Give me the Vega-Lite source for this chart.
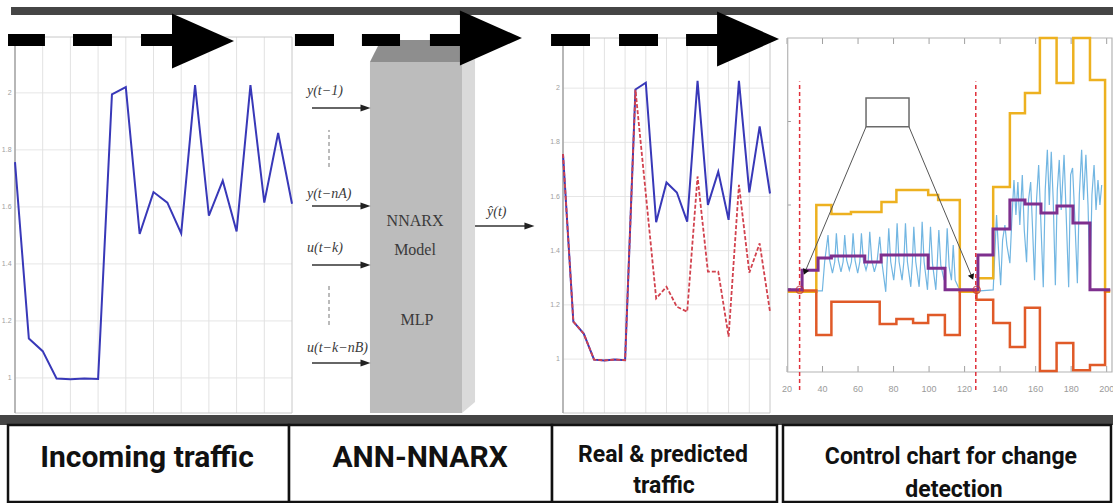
{
  "$schema": "https://vega.github.io/schema/vega-lite/v6.json",
  "width": 1113,
  "height": 503,
  "autosize": {"type": "none"},
  "padding": 0,
  "background": "white",
  "config": {"view": {"stroke": null}},
  "resolve": {"scale": {"x": "independent", "y": "independent"}},
  "datasets": {
    "series": [
      {"t": 1, "real": 1.757, "predicted": 1.757},
      {"t": 2, "real": 1.138, "predicted": 1.138},
      {"t": 3, "real": 1.094, "predicted": 1.094},
      {"t": 4, "real": 0.998, "predicted": 0.998},
      {"t": 5, "real": 0.995, "predicted": 0.995},
      {"t": 6, "real": 0.998, "predicted": 0.998},
      {"t": 7, "real": 0.996, "predicted": 0.996},
      {"t": 8, "real": 1.995, "predicted": 1.994},
      {"t": 9, "real": 2.02, "predicted": 1.61},
      {"t": 10, "real": 1.505, "predicted": 1.224},
      {"t": 11, "real": 1.652, "predicted": 1.267},
      {"t": 12, "real": 1.615, "predicted": 1.193},
      {"t": 13, "real": 1.507, "predicted": 1.175},
      {"t": 14, "real": 2.027, "predicted": 1.674},
      {"t": 15, "real": 1.569, "predicted": 1.323},
      {"t": 16, "real": 1.692, "predicted": 1.323},
      {"t": 17, "real": 1.514, "predicted": 1.083},
      {"t": 18, "real": 2.027, "predicted": 1.643},
      {"t": 19, "real": 1.615, "predicted": 1.319},
      {"t": 20, "real": 1.859, "predicted": 1.427},
      {"t": 21, "real": 1.611, "predicted": 1.175}
    ],
    "ygrid": [
      {"v": 1, "label": "1"}, {"v": 1.2, "label": "1.2"}, {"v": 1.4, "label": "1.4"},
      {"v": 1.6, "label": "1.6"}, {"v": 1.8, "label": "1.8"}, {"v": 2, "label": "2"}
    ],
    "xgrid": [{"t": 3}, {"t": 5}, {"t": 7}, {"t": 9}, {"t": 11}, {"t": 13}, {"t": 15}, {"t": 17}, {"t": 19}],
    "frame1": [{"panel": "incoming"}],
    "frame3": [{"panel": "predicted"}],
    "nn_front": [{"x": 33.24, "x2": 41.51, "y": 17.89, "y2": 87.67}],
    "nn_top": [{"x": 33.24, "y": 87.67, "y2": 87.67}, {"x": 34.23, "y": 92.05, "y2": 87.67}, {"x": 41.51, "y": 92.05, "y2": 87.67}],
    "nn_side": [{"x": 41.51, "y": 87.67, "y2": 17.89}, {"x": 42.68, "y": 90.06, "y2": 20.08}],
    "nn_arrows": [
      {"x": 28.03, "x2": 32.84, "y": 78.53},
      {"x": 28.03, "x2": 32.84, "y": 59.05},
      {"x": 28.03, "x2": 32.84, "y": 47.32},
      {"x": 28.03, "x2": 32.84, "y": 27.83},
      {"x": 42.68, "x2": 47.57, "y": 55.07}
    ],
    "nn_gaps": [{"x": 29.56, "y": 66.8, "y2": 74.16}, {"x": 29.56, "y": 35.39, "y2": 43.74}],
    "nn_labels": [
      {"text": "y(t−1)", "x": 27.58, "y": 81.11},
      {"text": "y(t−nA)", "x": 27.58, "y": 60.64},
      {"text": "u(t−k)", "x": 27.58, "y": 49.9},
      {"text": "u(t−k−nB)", "x": 27.58, "y": 30.02},
      {"text": "ŷ(t)", "x": 43.76, "y": 57.06}
    ],
    "nn_model": [
      {"text": "NNARX", "x": 37.29, "y": 55.07},
      {"text": "Model", "x": 37.29, "y": 49.3},
      {"text": "MLP", "x": 37.47, "y": 35.39}
    ],
    "p4frame": [{"x": 20.4, "x2": 203, "v": 0, "v2": 100}],
    "p4xticks": [
      {"x": 20, "label": "20"}, {"x": 40, "label": "40"}, {"x": 60, "label": "60"}, {"x": 80, "label": "80"},
      {"x": 100, "label": "100"}, {"x": 120, "label": "120"}, {"x": 140, "label": "140"}, {"x": 160, "label": "160"},
      {"x": 180, "label": "180"}, {"x": 200, "label": "200"}
    ],
    "p4yticks": [{"v": 25}, {"v": 50}, {"v": 75}],
    "observed": [
      {"x": 30.9, "v": 24.3}, {"x": 39.9, "v": 24.3}, {"x": 41.2, "v": 33.0}, {"x": 43.1, "v": 41.0}, {"x": 44.0, "v": 33.5},
      {"x": 45.6, "v": 29.6}, {"x": 46.9, "v": 33.0}, {"x": 47.8, "v": 41.5}, {"x": 48.9, "v": 33.5}, {"x": 50.4, "v": 30.0},
      {"x": 51.6, "v": 33.0}, {"x": 52.5, "v": 41.0}, {"x": 53.6, "v": 33.5}, {"x": 55.1, "v": 30.5}, {"x": 56.3, "v": 33.0},
      {"x": 57.2, "v": 41.5}, {"x": 58.3, "v": 33.5}, {"x": 59.8, "v": 29.6}, {"x": 61.0, "v": 33.0}, {"x": 61.9, "v": 41.5},
      {"x": 63.0, "v": 33.5}, {"x": 64.5, "v": 30.5}, {"x": 65.7, "v": 33.0}, {"x": 66.6, "v": 42.0}, {"x": 67.7, "v": 33.5},
      {"x": 69.2, "v": 30.0}, {"x": 70.7, "v": 33.0}, {"x": 72.2, "v": 40.5}, {"x": 73.4, "v": 33.0}, {"x": 75.6, "v": 24.0},
      {"x": 76.4, "v": 33.0}, {"x": 77.3, "v": 43.0}, {"x": 78.4, "v": 33.0}, {"x": 80.1, "v": 27.5}, {"x": 81.1, "v": 33.0},
      {"x": 82.0, "v": 44.5}, {"x": 83.1, "v": 33.0}, {"x": 84.8, "v": 27.5}, {"x": 85.8, "v": 33.0}, {"x": 86.7, "v": 44.5},
      {"x": 87.8, "v": 33.0}, {"x": 89.7, "v": 25.5}, {"x": 90.6, "v": 33.0}, {"x": 91.4, "v": 43.5}, {"x": 92.5, "v": 33.0},
      {"x": 94.4, "v": 25.5}, {"x": 95.3, "v": 33.0}, {"x": 96.1, "v": 45.0}, {"x": 97.2, "v": 33.0}, {"x": 99.1, "v": 24.6},
      {"x": 99.9, "v": 33.0}, {"x": 100.8, "v": 43.5}, {"x": 101.9, "v": 32.5}, {"x": 103.8, "v": 24.6}, {"x": 104.6, "v": 32.5},
      {"x": 105.5, "v": 42.5}, {"x": 106.6, "v": 32.0}, {"x": 108.5, "v": 27.5}, {"x": 109.4, "v": 32.0}, {"x": 110.2, "v": 43.0},
      {"x": 111.3, "v": 31.5}, {"x": 112.6, "v": 27.5}, {"x": 113.6, "v": 38.0}, {"x": 114.7, "v": 27.5}, {"x": 116.4, "v": 25.5},
      {"x": 118.3, "v": 24.6}, {"x": 128.6, "v": 24.3}, {"x": 136.1, "v": 24.6},
      {"x": 137.1, "v": 36.5}, {"x": 138.0, "v": 47.0}, {"x": 139.1, "v": 36.5}, {"x": 140.3, "v": 26.0}, {"x": 141.4, "v": 39.5},
      {"x": 142.7, "v": 44.0}, {"x": 143.8, "v": 38.0}, {"x": 145.5, "v": 32.6}, {"x": 146.6, "v": 45.5}, {"x": 147.8, "v": 57.5},
      {"x": 148.9, "v": 47.0}, {"x": 150.0, "v": 56.9}, {"x": 151.1, "v": 44.0}, {"x": 152.5, "v": 59.0}, {"x": 153.6, "v": 42.5},
      {"x": 154.9, "v": 32.9}, {"x": 156.0, "v": 51.5}, {"x": 157.2, "v": 56.9}, {"x": 158.3, "v": 42.5}, {"x": 159.4, "v": 27.5},
      {"x": 160.5, "v": 51.5}, {"x": 161.7, "v": 62.0}, {"x": 162.8, "v": 47.0}, {"x": 164.3, "v": 25.4}, {"x": 165.4, "v": 54.5},
      {"x": 166.6, "v": 66.5}, {"x": 167.7, "v": 50.0}, {"x": 168.8, "v": 65.9}, {"x": 169.9, "v": 51.5}, {"x": 171.1, "v": 26.0},
      {"x": 172.2, "v": 54.5}, {"x": 173.3, "v": 63.5}, {"x": 174.4, "v": 48.5}, {"x": 176.0, "v": 65.0}, {"x": 177.1, "v": 48.5},
      {"x": 178.6, "v": 25.4}, {"x": 179.7, "v": 59.0}, {"x": 180.8, "v": 61.1}, {"x": 182.0, "v": 47.0}, {"x": 183.5, "v": 26.6},
      {"x": 184.6, "v": 53.0}, {"x": 185.9, "v": 66.5}, {"x": 187.0, "v": 51.5}, {"x": 188.3, "v": 65.0}, {"x": 189.5, "v": 50.0},
      {"x": 190.6, "v": 26.0}, {"x": 191.7, "v": 53.0}, {"x": 192.9, "v": 62.0}, {"x": 194.0, "v": 48.5}, {"x": 195.1, "v": 57.5},
      {"x": 196.2, "v": 50.0}, {"x": 197.2, "v": 56.0}
    ],
    "center": [
      {"x": 20.5, "v": 24.6}, {"x": 28.5, "v": 30.5}, {"x": 37.5, "v": 34.1}, {"x": 45, "v": 34.7}, {"x": 63.8, "v": 32.9},
      {"x": 73, "v": 35.0}, {"x": 99.5, "v": 31.1}, {"x": 109, "v": 24.6}, {"x": 127.5, "v": 35.0}, {"x": 136, "v": 42.8},
      {"x": 145.5, "v": 51.5}, {"x": 154, "v": 50.3}, {"x": 163, "v": 47.6}, {"x": 172, "v": 49.7}, {"x": 181, "v": 44.6},
      {"x": 190.6, "v": 24.6}, {"x": 202, "v": 24.6}
    ],
    "upper": [
      {"x": 20.5, "v": 24.0}, {"x": 36.5, "v": 50.0}, {"x": 45, "v": 47.3}, {"x": 56, "v": 47.9}, {"x": 73.2, "v": 50.9},
      {"x": 81.6, "v": 54.5}, {"x": 99.5, "v": 53.0}, {"x": 105.1, "v": 51.5}, {"x": 117.3, "v": 24.0}, {"x": 127.7, "v": 28.1},
      {"x": 136.1, "v": 55.4}, {"x": 145.5, "v": 77.5}, {"x": 154, "v": 83.5}, {"x": 162.4, "v": 100}, {"x": 171.8, "v": 86.5},
      {"x": 181.2, "v": 100}, {"x": 190.6, "v": 87.4}, {"x": 199.1, "v": 24.0}, {"x": 202, "v": 24.0}
    ],
    "lower": [
      {"x": 20.5, "v": 24.4}, {"x": 36.5, "v": 11.1}, {"x": 45, "v": 21.0}, {"x": 72.2, "v": 14.4}, {"x": 81.6, "v": 15.9},
      {"x": 91, "v": 14.7}, {"x": 99.5, "v": 17.1}, {"x": 108.9, "v": 11.1}, {"x": 117.3, "v": 24.4}, {"x": 126.7, "v": 21.6},
      {"x": 136.1, "v": 14.7}, {"x": 145.5, "v": 7.5}, {"x": 154, "v": 19.2}, {"x": 162.4, "v": 0.3}, {"x": 171.8, "v": 8.7},
      {"x": 181.2, "v": 0.5}, {"x": 190.6, "v": 2.1}, {"x": 199.1, "v": 24.4}, {"x": 202, "v": 24.4}
    ],
    "changes": [{"x": 27.1}, {"x": 126.3}],
    "marks4": [{"x": 27.2, "v": 24.6}, {"x": 126.8, "v": 24.6}],
    "zoombox": [{"x": 64.5, "x2": 88.7, "v": 73.4, "v2": 82.0}],
    "connectors": [{"x": 64.5, "v": 73.4, "x2": 30.1, "v2": 29.9}, {"x": 88.7, "v": 73.4, "x2": 124.2, "v2": 28.4}],
    "bars": [{"x": 0.99, "x2": 100, "y": 97.02, "y2": 98.61}, {"x": 0, "x2": 100, "y": 15.51, "y2": 17.5}],
    "boxes": [
      {"x": 0.72, "x2": 25.97, "y": 0.2, "y2": 15.51},
      {"x": 25.97, "x2": 49.6, "y": 0.2, "y2": 15.51},
      {"x": 49.6, "x2": 69.81, "y": 0.2, "y2": 15.51},
      {"x": 70.35, "x2": 99.82, "y": 0.2, "y2": 15.51}
    ],
    "dashes": [
      {"x": 0.72, "x2": 4.04}, {"x": 6.56, "x2": 10.06}, {"x": 12.67, "x2": 15.81},
      {"x": 26.5, "x2": 30.01}, {"x": 32.52, "x2": 35.94}, {"x": 38.63, "x2": 41.51},
      {"x": 49.51, "x2": 53.01}, {"x": 55.62, "x2": 59.12}, {"x": 61.64, "x2": 64.6}
    ],
    "heads": [{"x": 18.24, "y": 91.85}, {"x": 44.11, "y": 92.45}, {"x": 67.21, "y": 92.25}],
    "titles_big": [{"text": "Incoming traffic", "x": 13.21, "y": 7.16}, {"text": "ANN-NNARX", "x": 37.74, "y": 7.16}],
    "titles_small": [
      {"text": "Real & predicted", "x": 59.57, "y": 8.15},
      {"text": "traffic", "x": 59.66, "y": 1.99},
      {"text": "Control chart for change", "x": 85.44, "y": 7.75},
      {"text": "detection", "x": 85.71, "y": 1.19}
    ]
  },
  "layer": [
    {
      "data": {"name": "ygrid"},
      "mark": {"type": "rule", "color": "#e6e6e6", "strokeWidth": 1},
      "encoding": {
        "x": {"datum": 1, "type": "quantitative", "scale": {"domain": [1, 21], "range": [15, 292], "nice": false, "zero": false}, "axis": null},
        "x2": {"datum": 21},
        "y": {"field": "v", "type": "quantitative", "scale": {"domain": [0.877, 2.196], "range": [413, 37], "nice": false, "zero": false}, "axis": null}
      }
    },
    {
      "data": {"name": "xgrid"},
      "mark": {"type": "rule", "color": "#e2e2e2", "strokeWidth": 1},
      "encoding": {
        "x": {"field": "t", "type": "quantitative", "scale": {"domain": [1, 21], "range": [15, 292], "nice": false, "zero": false}, "axis": null},
        "y": {"datum": 0.877, "type": "quantitative", "scale": {"domain": [0.877, 2.196], "range": [413, 37], "nice": false, "zero": false}, "axis": null},
        "y2": {"datum": 2.196}
      }
    },
    {
      "data": {"name": "frame1"},
      "mark": {"type": "rect", "fillOpacity": 0, "stroke": "#c8c8c8", "strokeWidth": 1},
      "encoding": {
        "x": {"datum": 1, "type": "quantitative", "scale": {"domain": [1, 21], "range": [15, 292], "nice": false, "zero": false}, "axis": null},
        "x2": {"datum": 21},
        "y": {"datum": 0.877, "type": "quantitative", "scale": {"domain": [0.877, 2.196], "range": [413, 37], "nice": false, "zero": false}, "axis": null},
        "y2": {"datum": 2.196}
      }
    },
    {
      "data": {"name": "frame1"},
      "mark": {"type": "rule", "color": "#a8a8a8", "strokeWidth": 1.5},
      "encoding": {
        "x": {"datum": 1, "type": "quantitative", "scale": {"domain": [1, 21], "range": [15, 292], "nice": false, "zero": false}, "axis": null},
        "y": {"datum": 0.877, "type": "quantitative", "scale": {"domain": [0.877, 2.196], "range": [413, 37], "nice": false, "zero": false}, "axis": null},
        "y2": {"datum": 2.196}
      }
    },
    {
      "data": {"name": "ygrid"},
      "mark": {"type": "text", "align": "right", "baseline": "middle", "fontSize": 7, "color": "#a0a0a0", "font": "Liberation Sans"},
      "encoding": {
        "x": {"datum": 0.75, "type": "quantitative", "scale": {"domain": [1, 21], "range": [15, 292], "nice": false, "zero": false}, "axis": null},
        "y": {"field": "v", "type": "quantitative", "scale": {"domain": [0.877, 2.196], "range": [413, 37], "nice": false, "zero": false}, "axis": null},
        "text": {"field": "label"}
      }
    },
    {
      "data": {"name": "series"},
      "mark": {"type": "line", "color": "#3838b8", "strokeWidth": 2},
      "encoding": {
        "x": {"field": "t", "type": "quantitative", "scale": {"domain": [1, 21], "range": [15, 292], "nice": false, "zero": false}, "axis": null},
        "y": {"field": "real", "type": "quantitative", "scale": {"domain": [0.877, 2.196], "range": [413, 37], "nice": false, "zero": false}, "axis": null}
      }
    },
    {
      "data": {"name": "ygrid"},
      "mark": {"type": "rule", "color": "#e6e6e6", "strokeWidth": 1},
      "encoding": {
        "x": {"datum": 1, "type": "quantitative", "scale": {"domain": [1, 21], "range": [563, 770], "nice": false, "zero": false}, "axis": null},
        "x2": {"datum": 21},
        "y": {"field": "v", "type": "quantitative", "scale": {"domain": [0.801, 2.185], "range": [413, 38], "nice": false, "zero": false}, "axis": null}
      }
    },
    {
      "data": {"name": "xgrid"},
      "mark": {"type": "rule", "color": "#e2e2e2", "strokeWidth": 1},
      "encoding": {
        "x": {"field": "t", "type": "quantitative", "scale": {"domain": [1, 21], "range": [563, 770], "nice": false, "zero": false}, "axis": null},
        "y": {"datum": 0.801, "type": "quantitative", "scale": {"domain": [0.801, 2.185], "range": [413, 38], "nice": false, "zero": false}, "axis": null},
        "y2": {"datum": 2.185}
      }
    },
    {
      "data": {"name": "frame3"},
      "mark": {"type": "rect", "fillOpacity": 0, "stroke": "#c8c8c8", "strokeWidth": 1},
      "encoding": {
        "x": {"datum": 1, "type": "quantitative", "scale": {"domain": [1, 21], "range": [563, 770], "nice": false, "zero": false}, "axis": null},
        "x2": {"datum": 21},
        "y": {"datum": 0.801, "type": "quantitative", "scale": {"domain": [0.801, 2.185], "range": [413, 38], "nice": false, "zero": false}, "axis": null},
        "y2": {"datum": 2.185}
      }
    },
    {
      "data": {"name": "frame3"},
      "mark": {"type": "rule", "color": "#a8a8a8", "strokeWidth": 1.5},
      "encoding": {
        "x": {"datum": 1, "type": "quantitative", "scale": {"domain": [1, 21], "range": [563, 770], "nice": false, "zero": false}, "axis": null},
        "y": {"datum": 0.801, "type": "quantitative", "scale": {"domain": [0.801, 2.185], "range": [413, 38], "nice": false, "zero": false}, "axis": null},
        "y2": {"datum": 2.185}
      }
    },
    {
      "data": {"name": "ygrid"},
      "mark": {"type": "text", "align": "right", "baseline": "middle", "fontSize": 7, "color": "#a0a0a0", "font": "Liberation Sans"},
      "encoding": {
        "x": {"datum": 0.7, "type": "quantitative", "scale": {"domain": [1, 21], "range": [563, 770], "nice": false, "zero": false}, "axis": null},
        "y": {"field": "v", "type": "quantitative", "scale": {"domain": [0.801, 2.185], "range": [413, 38], "nice": false, "zero": false}, "axis": null},
        "text": {"field": "label"}
      }
    },
    {
      "data": {"name": "series"},
      "mark": {"type": "line", "color": "#3838b8", "strokeWidth": 2},
      "encoding": {
        "x": {"field": "t", "type": "quantitative", "scale": {"domain": [1, 21], "range": [563, 770], "nice": false, "zero": false}, "axis": null},
        "y": {"field": "real", "type": "quantitative", "scale": {"domain": [0.801, 2.185], "range": [413, 38], "nice": false, "zero": false}, "axis": null}
      }
    },
    {
      "data": {"name": "series"},
      "mark": {"type": "line", "color": "#d2424e", "strokeWidth": 1.8, "strokeDash": [4, 2]},
      "encoding": {
        "x": {"field": "t", "type": "quantitative", "scale": {"domain": [1, 21], "range": [563, 770], "nice": false, "zero": false}, "axis": null},
        "y": {"field": "predicted", "type": "quantitative", "scale": {"domain": [0.801, 2.185], "range": [413, 38], "nice": false, "zero": false}, "axis": null}
      }
    },
    {
      "data": {"name": "nn_side"},
      "mark": {"type": "area", "orient": "vertical", "color": "#dadada", "opacity": 1},
      "encoding": {
        "x": {"field": "x", "type": "quantitative", "scale": {"domain": [0, 100], "range": [0, 1113], "nice": false, "zero": false}, "axis": null},
        "y": {"field": "y", "type": "quantitative", "scale": {"domain": [0, 100], "range": [503, 0], "nice": false, "zero": false}, "axis": null},
        "y2": {"field": "y2"}
      }
    },
    {
      "data": {"name": "nn_top"},
      "mark": {"type": "area", "orient": "vertical", "color": "#8e8e8e", "opacity": 1},
      "encoding": {
        "x": {"field": "x", "type": "quantitative", "scale": {"domain": [0, 100], "range": [0, 1113], "nice": false, "zero": false}, "axis": null},
        "y": {"field": "y", "type": "quantitative", "scale": {"domain": [0, 100], "range": [503, 0], "nice": false, "zero": false}, "axis": null},
        "y2": {"field": "y2"}
      }
    },
    {
      "data": {"name": "nn_front"},
      "mark": {"type": "rect", "color": "#bcbcbc"},
      "encoding": {
        "x": {"field": "x", "type": "quantitative", "scale": {"domain": [0, 100], "range": [0, 1113], "nice": false, "zero": false}, "axis": null},
        "x2": {"field": "x2"},
        "y": {"field": "y", "type": "quantitative", "scale": {"domain": [0, 100], "range": [503, 0], "nice": false, "zero": false}, "axis": null},
        "y2": {"field": "y2"}
      }
    },
    {
      "data": {"name": "nn_arrows"},
      "mark": {"type": "rule", "color": "#333333", "strokeWidth": 1.3},
      "encoding": {
        "x": {"field": "x", "type": "quantitative", "scale": {"domain": [0, 100], "range": [0, 1113], "nice": false, "zero": false}, "axis": null},
        "x2": {"field": "x2"},
        "y": {"field": "y", "type": "quantitative", "scale": {"domain": [0, 100], "range": [503, 0], "nice": false, "zero": false}, "axis": null}
      }
    },
    {
      "data": {"name": "nn_arrows"},
      "mark": {"type": "point", "shape": "M-1,-0.7L1,0L-1,0.7Z", "size": 100, "filled": true, "color": "#222222", "opacity": 1, "strokeWidth": 0},
      "encoding": {
        "x": {"field": "x2", "type": "quantitative", "scale": {"domain": [0, 100], "range": [0, 1113], "nice": false, "zero": false}, "axis": null},
        "y": {"field": "y", "type": "quantitative", "scale": {"domain": [0, 100], "range": [503, 0], "nice": false, "zero": false}, "axis": null}
      }
    },
    {
      "data": {"name": "nn_gaps"},
      "mark": {"type": "rule", "color": "#777777", "strokeWidth": 1, "strokeDash": [4, 3]},
      "encoding": {
        "x": {"field": "x", "type": "quantitative", "scale": {"domain": [0, 100], "range": [0, 1113], "nice": false, "zero": false}, "axis": null},
        "y": {"field": "y", "type": "quantitative", "scale": {"domain": [0, 100], "range": [503, 0], "nice": false, "zero": false}, "axis": null},
        "y2": {"field": "y2"}
      }
    },
    {
      "data": {"name": "nn_labels"},
      "mark": {"type": "text", "align": "left", "baseline": "alphabetic", "font": "Liberation Serif", "fontStyle": "italic", "fontSize": 14, "color": "#3a3a3a"},
      "encoding": {
        "x": {"field": "x", "type": "quantitative", "scale": {"domain": [0, 100], "range": [0, 1113], "nice": false, "zero": false}, "axis": null},
        "y": {"field": "y", "type": "quantitative", "scale": {"domain": [0, 100], "range": [503, 0], "nice": false, "zero": false}, "axis": null},
        "text": {"field": "text"}
      }
    },
    {
      "data": {"name": "nn_model"},
      "mark": {"type": "text", "align": "center", "baseline": "alphabetic", "font": "Liberation Serif", "fontSize": 16, "color": "#3a3a3a"},
      "encoding": {
        "x": {"field": "x", "type": "quantitative", "scale": {"domain": [0, 100], "range": [0, 1113], "nice": false, "zero": false}, "axis": null},
        "y": {"field": "y", "type": "quantitative", "scale": {"domain": [0, 100], "range": [503, 0], "nice": false, "zero": false}, "axis": null},
        "text": {"field": "text"}
      }
    },
    {
      "data": {"name": "p4xticks"},
      "mark": {"type": "rule", "color": "#a0a0a0", "strokeWidth": 1},
      "encoding": {
        "x": {"field": "x", "type": "quantitative", "scale": {"domain": [20, 203], "range": [787, 1112], "nice": false, "zero": false}, "axis": null},
        "y": {"datum": 100, "type": "quantitative", "scale": {"domain": [0, 100], "range": [372, 38], "nice": false, "zero": false}, "axis": null},
        "y2": {"datum": 98.2}
      }
    },
    {
      "data": {"name": "p4xticks"},
      "mark": {"type": "rule", "color": "#a0a0a0", "strokeWidth": 1},
      "encoding": {
        "x": {"field": "x", "type": "quantitative", "scale": {"domain": [20, 203], "range": [787, 1112], "nice": false, "zero": false}, "axis": null},
        "y": {"datum": 0, "type": "quantitative", "scale": {"domain": [0, 100], "range": [372, 38], "nice": false, "zero": false}, "axis": null},
        "y2": {"datum": 1.8}
      }
    },
    {
      "data": {"name": "p4yticks"},
      "mark": {"type": "rule", "color": "#a0a0a0", "strokeWidth": 1},
      "encoding": {
        "x": {"datum": 20.4, "type": "quantitative", "scale": {"domain": [20, 203], "range": [787, 1112], "nice": false, "zero": false}, "axis": null},
        "x2": {"datum": 22.2},
        "y": {"field": "v", "type": "quantitative", "scale": {"domain": [0, 100], "range": [372, 38], "nice": false, "zero": false}, "axis": null}
      }
    },
    {
      "data": {"name": "p4frame"},
      "mark": {"type": "rect", "fillOpacity": 0, "stroke": "#b4b4b4", "strokeWidth": 1.2},
      "encoding": {
        "x": {"field": "x", "type": "quantitative", "scale": {"domain": [20, 203], "range": [787, 1112], "nice": false, "zero": false}, "axis": null},
        "x2": {"field": "x2"},
        "y": {"field": "v", "type": "quantitative", "scale": {"domain": [0, 100], "range": [372, 38], "nice": false, "zero": false}, "axis": null},
        "y2": {"field": "v2"}
      }
    },
    {
      "data": {"name": "p4xticks"},
      "mark": {"type": "text", "align": "center", "baseline": "middle", "fontSize": 9, "color": "#9a9a9a", "font": "Liberation Sans"},
      "encoding": {
        "x": {"field": "x", "type": "quantitative", "scale": {"domain": [20, 203], "range": [787, 1112], "nice": false, "zero": false}, "axis": null},
        "y": {"datum": -5, "type": "quantitative", "scale": {"domain": [0, 100], "range": [372, 38], "nice": false, "zero": false}, "axis": null},
        "text": {"field": "label"}
      }
    },
    {
      "data": {"name": "observed"},
      "mark": {"type": "line", "color": "#72b6e2", "strokeWidth": 1.2},
      "encoding": {
        "x": {"field": "x", "type": "quantitative", "scale": {"domain": [20, 203], "range": [787, 1112], "nice": false, "zero": false}, "axis": null},
        "y": {"field": "v", "type": "quantitative", "scale": {"domain": [0, 100], "range": [372, 38], "nice": false, "zero": false}, "axis": null}
      }
    },
    {
      "data": {"name": "upper"},
      "mark": {"type": "line", "color": "#edb120", "strokeWidth": 2.5, "interpolate": "step-after"},
      "encoding": {
        "x": {"field": "x", "type": "quantitative", "scale": {"domain": [20, 203], "range": [787, 1112], "nice": false, "zero": false}, "axis": null},
        "y": {"field": "v", "type": "quantitative", "scale": {"domain": [0, 100], "range": [372, 38], "nice": false, "zero": false}, "axis": null}
      }
    },
    {
      "data": {"name": "lower"},
      "mark": {"type": "line", "color": "#e05a28", "strokeWidth": 2.5, "interpolate": "step-after"},
      "encoding": {
        "x": {"field": "x", "type": "quantitative", "scale": {"domain": [20, 203], "range": [787, 1112], "nice": false, "zero": false}, "axis": null},
        "y": {"field": "v", "type": "quantitative", "scale": {"domain": [0, 100], "range": [372, 38], "nice": false, "zero": false}, "axis": null}
      }
    },
    {
      "data": {"name": "center"},
      "mark": {"type": "line", "color": "#7e2f8e", "strokeWidth": 3, "interpolate": "step-after"},
      "encoding": {
        "x": {"field": "x", "type": "quantitative", "scale": {"domain": [20, 203], "range": [787, 1112], "nice": false, "zero": false}, "axis": null},
        "y": {"field": "v", "type": "quantitative", "scale": {"domain": [0, 100], "range": [372, 38], "nice": false, "zero": false}, "axis": null}
      }
    },
    {
      "data": {"name": "changes"},
      "mark": {"type": "rule", "color": "#e0303a", "strokeWidth": 1.5, "strokeDash": [4, 3]},
      "encoding": {
        "x": {"field": "x", "type": "quantitative", "scale": {"domain": [20, 203], "range": [787, 1112], "nice": false, "zero": false}, "axis": null},
        "y": {"datum": -5.4, "type": "quantitative", "scale": {"domain": [0, 100], "range": [372, 38], "nice": false, "zero": false}, "axis": null},
        "y2": {"datum": 87}
      }
    },
    {
      "data": {"name": "marks4"},
      "mark": {"type": "point", "shape": "circle", "size": 55, "filled": false, "color": "#c0303a", "strokeWidth": 1.2},
      "encoding": {
        "x": {"field": "x", "type": "quantitative", "scale": {"domain": [20, 203], "range": [787, 1112], "nice": false, "zero": false}, "axis": null},
        "y": {"field": "v", "type": "quantitative", "scale": {"domain": [0, 100], "range": [372, 38], "nice": false, "zero": false}, "axis": null}
      }
    },
    {
      "data": {"name": "zoombox"},
      "mark": {"type": "rect", "fillOpacity": 0, "stroke": "#6a6a6a", "strokeWidth": 1.5},
      "encoding": {
        "x": {"field": "x", "type": "quantitative", "scale": {"domain": [20, 203], "range": [787, 1112], "nice": false, "zero": false}, "axis": null},
        "x2": {"field": "x2"},
        "y": {"field": "v", "type": "quantitative", "scale": {"domain": [0, 100], "range": [372, 38], "nice": false, "zero": false}, "axis": null},
        "y2": {"field": "v2"}
      }
    },
    {
      "data": {"name": "connectors"},
      "mark": {"type": "rule", "color": "#555555", "strokeWidth": 1},
      "encoding": {
        "x": {"field": "x", "type": "quantitative", "scale": {"domain": [20, 203], "range": [787, 1112], "nice": false, "zero": false}, "axis": null},
        "x2": {"field": "x2"},
        "y": {"field": "v", "type": "quantitative", "scale": {"domain": [0, 100], "range": [372, 38], "nice": false, "zero": false}, "axis": null},
        "y2": {"field": "v2"}
      }
    },
    {
      "data": {"values": [{"x": 30.1, "v": 29.9}]},
      "mark": {"type": "point", "shape": "triangle-up", "size": 45, "filled": true, "color": "#111111", "opacity": 1, "angle": 202.8},
      "encoding": {
        "x": {"field": "x", "type": "quantitative", "scale": {"domain": [20, 203], "range": [787, 1112], "nice": false, "zero": false}, "axis": null},
        "y": {"field": "v", "type": "quantitative", "scale": {"domain": [0, 100], "range": [372, 38], "nice": false, "zero": false}, "axis": null}
      }
    },
    {
      "data": {"values": [{"x": 124.2, "v": 28.4}]},
      "mark": {"type": "point", "shape": "triangle-up", "size": 45, "filled": true, "color": "#111111", "opacity": 1, "angle": 157.2},
      "encoding": {
        "x": {"field": "x", "type": "quantitative", "scale": {"domain": [20, 203], "range": [787, 1112], "nice": false, "zero": false}, "axis": null},
        "y": {"field": "v", "type": "quantitative", "scale": {"domain": [0, 100], "range": [372, 38], "nice": false, "zero": false}, "axis": null}
      }
    },
    {
      "data": {"name": "bars"},
      "mark": {"type": "rect", "color": "#454545"},
      "encoding": {
        "x": {"field": "x", "type": "quantitative", "scale": {"domain": [0, 100], "range": [0, 1113], "nice": false, "zero": false}, "axis": null},
        "x2": {"field": "x2"},
        "y": {"field": "y", "type": "quantitative", "scale": {"domain": [0, 100], "range": [503, 0], "nice": false, "zero": false}, "axis": null},
        "y2": {"field": "y2"}
      }
    },
    {
      "data": {"name": "boxes"},
      "mark": {"type": "rect", "fill": "white", "stroke": "#111111", "strokeWidth": 2.5},
      "encoding": {
        "x": {"field": "x", "type": "quantitative", "scale": {"domain": [0, 100], "range": [0, 1113], "nice": false, "zero": false}, "axis": null},
        "x2": {"field": "x2"},
        "y": {"field": "y", "type": "quantitative", "scale": {"domain": [0, 100], "range": [503, 0], "nice": false, "zero": false}, "axis": null},
        "y2": {"field": "y2"}
      }
    },
    {
      "data": {"name": "titles_big"},
      "mark": {"type": "text", "align": "center", "baseline": "alphabetic", "font": "Roboto", "fontWeight": "bold", "fontSize": 30, "color": "#111111"},
      "encoding": {
        "x": {"field": "x", "type": "quantitative", "scale": {"domain": [0, 100], "range": [0, 1113], "nice": false, "zero": false}, "axis": null},
        "y": {"field": "y", "type": "quantitative", "scale": {"domain": [0, 100], "range": [503, 0], "nice": false, "zero": false}, "axis": null},
        "text": {"field": "text"}
      }
    },
    {
      "data": {"name": "titles_small"},
      "mark": {"type": "text", "align": "center", "baseline": "alphabetic", "font": "Roboto", "fontWeight": "bold", "fontSize": 23, "color": "#111111"},
      "encoding": {
        "x": {"field": "x", "type": "quantitative", "scale": {"domain": [0, 100], "range": [0, 1113], "nice": false, "zero": false}, "axis": null},
        "y": {"field": "y", "type": "quantitative", "scale": {"domain": [0, 100], "range": [503, 0], "nice": false, "zero": false}, "axis": null},
        "text": {"field": "text"}
      }
    },
    {
      "data": {"name": "dashes"},
      "mark": {"type": "rect", "color": "#000000"},
      "encoding": {
        "x": {"field": "x", "type": "quantitative", "scale": {"domain": [0, 100], "range": [0, 1113], "nice": false, "zero": false}, "axis": null},
        "x2": {"field": "x2"},
        "y": {"datum": 90.85, "type": "quantitative", "scale": {"domain": [0, 100], "range": [503, 0], "nice": false, "zero": false}, "axis": null},
        "y2": {"datum": 93.24}
      }
    },
    {
      "data": {"name": "heads"},
      "mark": {"type": "point", "shape": "M-1,-0.887L1,0L-1,0.887Z", "size": 3844, "filled": true, "color": "#000000", "opacity": 1, "strokeWidth": 0},
      "encoding": {
        "x": {"field": "x", "type": "quantitative", "scale": {"domain": [0, 100], "range": [0, 1113], "nice": false, "zero": false}, "axis": null},
        "y": {"field": "y", "type": "quantitative", "scale": {"domain": [0, 100], "range": [503, 0], "nice": false, "zero": false}, "axis": null}
      }
    }
  ]
}
